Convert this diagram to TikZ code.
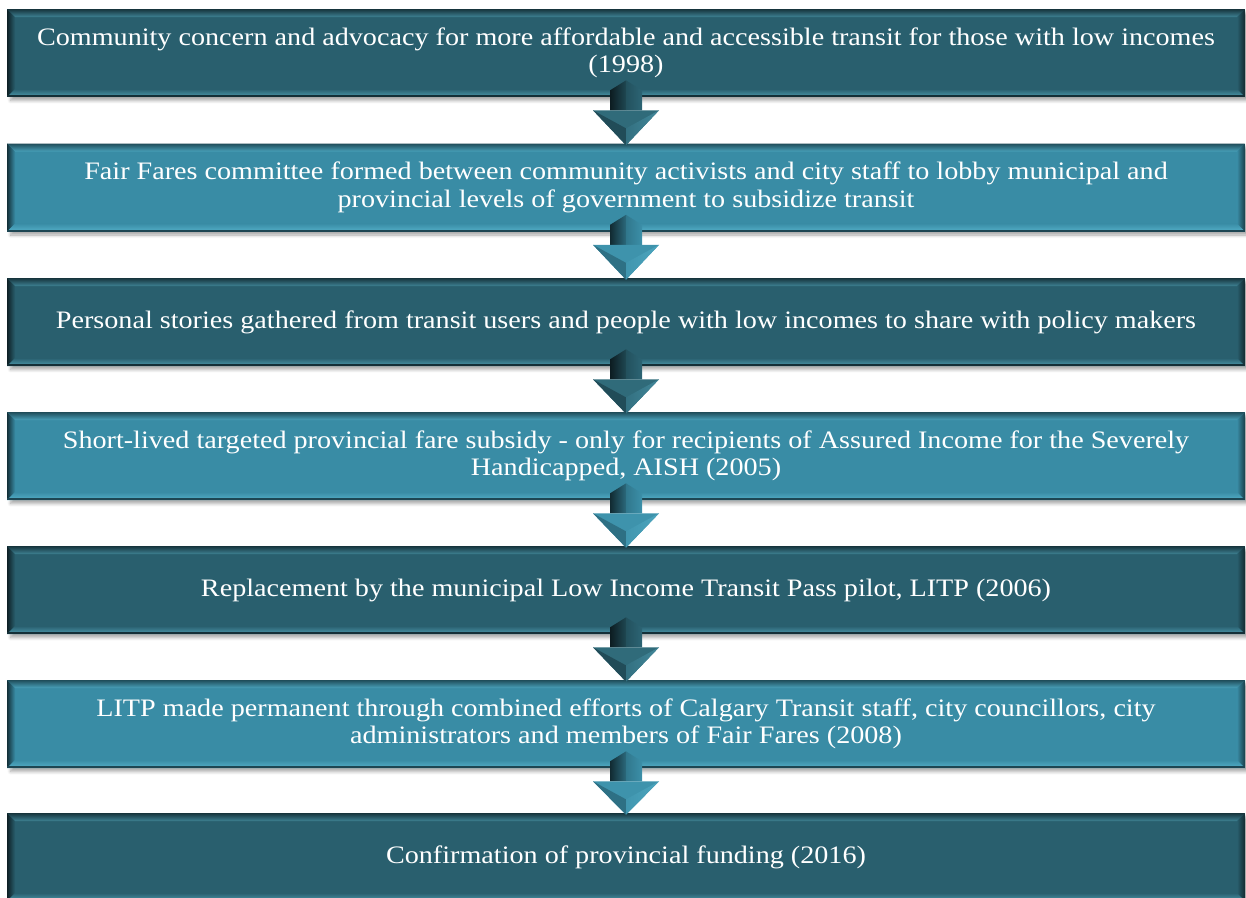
\documentclass[tikz,border=0pt]{standalone}
\usepackage{fontspec}
\setmainfont{Liberation Serif}[FakeStretch=1.12]
\usepackage{xcolor}
\usetikzlibrary{calc,shadows.blur}

\definecolor{tealdark}{RGB}{41,95,110}
\definecolor{teallight}{RGB}{57,140,165}
\definecolor{glow}{RGB}{110,210,235}

\newlength{\bev}
\setlength{\bev}{0.16cm}

\tikzset{
  % bevelled edges of a step box
  bevel/.style={path picture={
    \path (path picture bounding box.south west) coordinate (bsw)
          (path picture bounding box.north east) coordinate (bne)
          (path picture bounding box.north west) coordinate (bnw)
          (path picture bounding box.south east) coordinate (bse);
    \shade[left color=#1!35!black, right color=#1]
      (bnw) -- ($(bnw)+(\bev,-\bev)$) -- ($(bsw)+(\bev,\bev)$) -- (bsw) -- cycle;
    \shade[left color=#1, right color=#1!45!black]
      (bne) -- ($(bne)+(-\bev,-\bev)$) -- ($(bse)+(-\bev,\bev)$) -- (bse) -- cycle;
    \shade[top color=#1!55!black, bottom color=#1!70!glow]
      (bnw) -- (bne) -- ($(bne)+(-\bev,-\bev)$) -- ($(bnw)+(\bev,-\bev)$) -- cycle;
    \shade[top color=#1, bottom color=#1!50!glow]
      (bsw) -- (bse) -- ($(bse)+(-\bev,\bev)$) -- ($(bsw)+(\bev,\bev)$) -- cycle;
    \fill[#1!50!black] (bsw) rectangle ($(bse)+(0pt,1pt)$);
  }},
  stepbox/.style={rectangle, fill=#1, bevel=#1, minimum width=24.76cm,
    minimum height=1.76cm, inner sep=0pt, align=center, text=white,
    font=\fontsize{14.3}{15.6}\selectfont,
    blur shadow={shadow xshift=2pt, shadow yshift=-2pt, shadow blur steps=6, shadow opacity=35}},
}

% 3D block arrow from one step down to the next
\newcommand{\steparrow}[3]{%
  \path ($(#1.south)+(0pt,0.34cm)$) coordinate (#1-pk)
        ($(#1.south)+(-0.32cm,0.14cm)$) coordinate (#1-sl)
        ($(#1.south)+(0.32cm,0.14cm)$) coordinate (#1-sr)
        ($(#1.south)+(-0.32cm,-0.26cm)$) coordinate (#1-bl)
        ($(#1.south)+(0.32cm,-0.26cm)$) coordinate (#1-br)
        ($(#1.south)+(0pt,-0.26cm)$) coordinate (#1-bm)
        ($(#1.south)+(-0.66cm,-0.26cm)$) coordinate (#1-hl)
        ($(#1.south)+(0.66cm,-0.26cm)$) coordinate (#1-hr)
        ($(#1.south)+(0pt,-0.62cm)$) coordinate (#1-c)
        ($(#2.north)+(0pt,-0.04cm)$) coordinate (#1-tip);
  \shade[left color=#3!30!black, right color=#3!75!black] (#1-pk) -- (#1-sl) -- (#1-bl) -- (#1-bm) -- cycle;
  \shade[left color=#3!85!black, right color=#3!95!glow] (#1-pk) -- (#1-sr) -- (#1-br) -- (#1-bm) -- cycle;
  \fill[#3!90!glow] (#1-hl) -- (#1-hr) -- (#1-tip) -- cycle;
  \fill[#3!80!black] (#1-hl) -- (#1-c) -- (#1-tip) -- cycle;
  \shade[left color=#3!85!glow, right color=#3!65!glow] (#1-c) -- (#1-hr) -- (#1-tip) -- cycle;
}

\begin{document}
\begin{tikzpicture}[x=0.02cm, y=-0.02cm]
    \useasboundingbox (0,0) rectangle (1246,897);

    % Steps
    \node[stepbox=tealdark] (s1) at (626,53) {Community concern and advocacy for more affordable and accessible transit for those with low incomes\\(1998)};
    \node[stepbox=teallight] (s2) at (626,187.5) {Fair Fares committee formed between community activists and city staff to lobby municipal and\\provincial levels of government to subsidize transit};
    \node[stepbox=tealdark] (s3) at (626,322) {Personal stories gathered from transit users and people with low incomes to share with policy makers};
    \node[stepbox=teallight] (s4) at (626,456) {Short-lived targeted provincial fare subsidy - only for recipients of Assured Income for the Severely\\Handicapped, AISH (2005)};
    \node[stepbox=tealdark] (s5) at (626,590) {Replacement by the municipal Low Income Transit Pass pilot, LITP (2006)};
    \node[stepbox=teallight] (s6) at (626,724) {LITP made permanent through combined efforts of Calgary Transit staff, city councillors, city\\administrators and members of Fair Fares (2008)};
    \node[stepbox=tealdark] (s7) at (626,857) {Confirmation of provincial funding (2016)};

    % Arrows
    \steparrow{s1}{s2}{tealdark}
    \steparrow{s2}{s3}{teallight}
    \steparrow{s3}{s4}{tealdark}
    \steparrow{s4}{s5}{teallight}
    \steparrow{s5}{s6}{tealdark}
    \steparrow{s6}{s7}{teallight}
\end{tikzpicture}
\end{document}
